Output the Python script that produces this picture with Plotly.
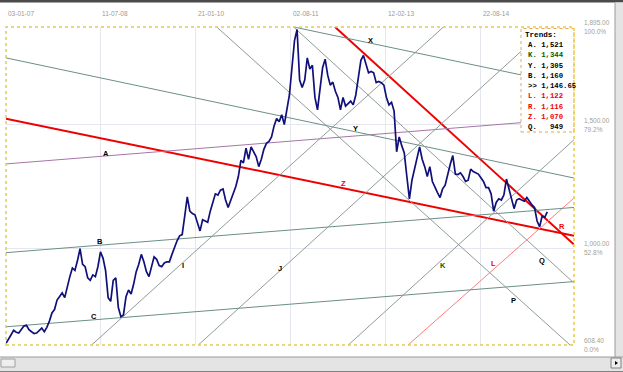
import pandas as pd
import plotly.graph_objects as go

# ---------------- data ----------------
start_date = "2007-01-03"
prices = [
    615, 635, 650, 668, 660, 657, 670, 685, 688, 670,
    662, 655, 657, 668, 677, 662, 680, 705, 738, 752,
    790, 805, 819, 800, 845, 885, 920, 910, 950, 998,
    935, 925, 880, 870, 892, 885, 925, 985, 960, 910,
    800, 785, 870, 880, 760, 723, 730, 804, 831, 815,
    855, 905, 935, 975, 945, 905, 885, 920, 965, 955,
    930, 925, 940, 945, 945, 975, 1005, 1030, 1050, 1055,
    1130, 1208, 1150, 1140, 1135, 1100, 1070, 1115, 1110, 1105,
    1150, 1185, 1220, 1215, 1235, 1240, 1195, 1165, 1195, 1225,
    1250, 1290, 1355, 1345, 1405, 1360, 1410, 1390, 1370, 1330,
    1360, 1400, 1424, 1432, 1450, 1495, 1525, 1512, 1540, 1500,
    1560, 1620, 1730, 1840, 1885, 1680, 1650, 1680, 1770, 1725,
    1740, 1610, 1560, 1650, 1730, 1765, 1700, 1660, 1672, 1635,
    1610, 1560, 1610, 1575, 1585, 1595, 1580, 1620, 1690, 1760,
    1780, 1745, 1710, 1715, 1710, 1670, 1675, 1670, 1660, 1610,
    1580, 1590, 1555, 1390, 1450, 1415, 1385, 1290, 1200, 1275,
    1320, 1355, 1410, 1360, 1330, 1290, 1330, 1270, 1245, 1225,
    1205, 1240, 1255, 1300, 1340, 1375, 1300, 1298, 1305, 1290,
    1270, 1275, 1320, 1310, 1305, 1300, 1285, 1270, 1245, 1245,
    1220, 1150, 1185, 1200, 1195, 1215, 1280, 1240, 1208, 1160,
    1195, 1200, 1195, 1190, 1205, 1188, 1175, 1165, 1110, 1087,
    1130, 1125, 1147,
]

x_range = ["2007-01-03", "2016-02-22"]
y_range = [608.4, 1895]

tick_dates = ["2007-01-03", "2008-07-11", "2010-01-21", "2011-08-02", "2013-02-12", "2014-08-22"]
tick_text = ["03-01-07", "11-07-08", "21-01-10", "02-08-11", "12-02-13", "22-08-14"]

y_label_values = [1895, 1500, 1000, 608.4]
y_label_text = ["1,895.00", "1,500.00", "1,000.00", "608.40"]
y_label_pct = ["100.0%", "79.2%", "52.8%", "0.0%"]

# trend lines: name, start (date, price), end (date, price)
trend_names = ["Z", "R", "L", "A", "Y", "X", "B", "C", "I", "J", "K", "P", "Q"]
trend_x0 = ["2007-01-03", "2012-04-19", "2013-06-22", "2007-01-03", "2007-01-03", "2011-08-20",
            "2007-01-03", "2007-01-03", "2008-05-20", "2010-02-06", "2012-07-06", "2010-05-25", "2011-08-20"]
trend_y0 = [1524, 1895, 608.4, 1341, 1770, 1895, 982, 682, 608.4, 608.4, 608.4, 1895, 1895]
trend_x1 = ["2016-02-22", "2016-02-22", "2016-02-22", "2016-02-22", "2016-02-22", "2016-02-22",
            "2016-02-22", "2016-02-22", "2014-01-16", "2015-09-21", "2016-02-22", "2016-01-30", "2016-02-22"]
trend_y1 = [1050, 1015, 1203, 1525, 1284, 1656, 1165, 865, 1895, 1895, 1439, 608.4, 859]

# point labels on the chart
label_text = ["A", "B", "C", "I", "J", "X", "Y", "Z", "K", "L", "P", "Q", "R"]
label_x = ["2008-08-12", "2008-07-08", "2008-06-05", "2009-11-06", "2011-06-01", "2012-11-15",
           "2012-08-15", "2012-06-07", "2014-01-12", "2014-11-05", "2015-03-03", "2015-08-17", "2015-12-16"]
label_y = [1384, 1026, 723, 932, 919, 1840, 1485, 1260, 932, 939, 790, 952, 1087]

# legend box rows
legend_rows = ["A. 1,521", "K. 1,344", "Y. 1,305", "B. 1,160", ">> 1,146.65",
               "L. 1,122", "R. 1,116", "Z. 1,070", "Q.\u00a0\u00a0\u00a0949"]

# ---------------- styles ----------------
RED = "#ee0000"
TEAL = "#6a8f86"
GRAY = "#8e9c98"
trend_style = {
    "Z": (RED, 2), "R": (RED, 2), "L": ("#ff7b7b", 1), "A": ("#a676a6", 1),
    "Y": (TEAL, 1), "X": (TEAL, 1), "B": (TEAL, 1), "C": (TEAL, 1),
    "I": (GRAY, 1), "J": (GRAY, 1), "K": (GRAY, 1), "P": (GRAY, 1), "Q": (GRAY, 1),
}
label_color = {"Z": RED, "L": RED, "R": RED, "K": "#006000"}
legend_color = ["#000000", "#006000", "#000000", "#000000", "#000000", RED, RED, RED, "#000000"]

# plot area in pixels (for paper-coordinate decorations)
W, H = 623, 372
PL, PR, PT, PB = 6, 574, 27, 345


def px(xp):
    return (xp - PL) / (PR - PL)


def py(yp):
    return (PB - yp) / (PB - PT)


fig = go.Figure()

for n, a, b, c, d in zip(trend_names, trend_x0, trend_y0, trend_x1, trend_y1):
    col, w = trend_style[n]
    fig.add_trace(go.Scatter(x=[a, c], y=[b, d], mode="lines",
                             line=dict(color=col, width=w), hoverinfo="skip", showlegend=False))

dates = pd.date_range(start_date, periods=len(prices), freq="15D")
fig.add_trace(go.Scatter(x=dates, y=prices, mode="lines",
                         line=dict(color="#10107a", width=1.7), showlegend=False))

annotations = []
for d, t in zip(tick_dates, tick_text):
    annotations.append(dict(x=d, xref="x", y=py(13.5), yref="paper", text=t, showarrow=False,
                            xanchor="left", yanchor="middle", xshift=0,
                            font=dict(family="Liberation Sans", size=6.5, color="#9a9a9a")))
for v, t, p in zip(y_label_values, y_label_text, y_label_pct):
    annotations.append(dict(x=px(582), xref="paper", y=v, yref="y", text=t, showarrow=False,
                            xanchor="left", yanchor="middle", yshift=4.5,
                            font=dict(family="Liberation Sans", size=6.5, color="#a4a294")))
    annotations.append(dict(x=px(582), xref="paper", y=v, yref="y", text=p, showarrow=False,
                            xanchor="left", yanchor="middle", yshift=-4.5,
                            font=dict(family="Liberation Sans", size=6.5, color="#a4a294")))
for t, x, y in zip(label_text, label_x, label_y):
    annotations.append(dict(x=x, y=y, xref="x", yref="y", text="<b>" + t + "</b>", showarrow=False,
                            xanchor="center", yanchor="middle",
                            font=dict(family="Liberation Sans", size=7.5,
                                      color=label_color.get(t, "#000000"))))
annotations.append(dict(x=px(522.5), xref="paper", y=py(35), yref="paper", text="<b>Trends:</b>",
                        showarrow=False, xanchor="left", yanchor="middle",
                        font=dict(family="Liberation Mono", size=7.6, color="#000000")))
for i, (t, c) in enumerate(zip(legend_rows, legend_color)):
    annotations.append(dict(x=px(525.5), xref="paper", y=py(45.2 + 10.25 * i), yref="paper",
                            text="<b>" + t.replace(" ", "\u00a0") + "</b>",
                            showarrow=False, xanchor="left", yanchor="middle",
                            font=dict(family="Liberation Mono", size=7.3, color=c)))

shapes = [
    # legend box
    dict(type="rect", xref="paper", yref="paper", x0=px(521), x1=px(574), y0=py(132), y1=py(28.5),
         fillcolor="white", line=dict(color="#e8a848", width=1, dash="dot"), layer="above"),
    # plot border
    dict(type="rect", xref="paper", yref="paper", x0=0, x1=1, y0=0, y1=1,
         line=dict(color="#e4cc50", width=1.5, dash="dot"), layer="above"),
    # window chrome: top bar
    dict(type="rect", xref="paper", yref="paper", x0=px(0), x1=px(W), y0=py(2.5), y1=py(0),
         fillcolor="#4a4a4a", line=dict(width=0), layer="above"),
    # right scroll bar
    dict(type="rect", xref="paper", yref="paper", x0=px(615), x1=px(W), y0=py(357), y1=py(2.5),
         fillcolor="#e4e4e4", line=dict(width=0), layer="above"),
    dict(type="line", xref="paper", yref="paper", x0=px(615), x1=px(615), y0=py(357), y1=py(2.5),
         line=dict(color="#9a9a9a", width=1), layer="above"),
    # bottom scroll bar
    dict(type="rect", xref="paper", yref="paper", x0=px(0), x1=px(W), y0=py(H), y1=py(357),
         fillcolor="#e4e4e4", line=dict(width=0), layer="above"),
    dict(type="line", xref="paper", yref="paper", x0=px(0), x1=px(W), y0=py(357), y1=py(357),
         line=dict(color="#9a9a9a", width=1), layer="above"),
    dict(type="line", xref="paper", yref="paper", x0=px(0), x1=px(W), y0=py(371.5), y1=py(371.5),
         line=dict(color="#808080", width=1), layer="above"),
    dict(type="rect", xref="paper", yref="paper", x0=px(1), x1=px(15), y0=py(367), y1=py(359),
         fillcolor="#eeeeee", line=dict(color="#a0a0a0", width=1), layer="above"),
    dict(type="rect", xref="paper", yref="paper", x0=px(611), x1=px(621), y0=py(368), y1=py(358),
         fillcolor="#eeeeee", line=dict(color="#808080", width=1), layer="above"),
    dict(type="path", xref="paper", yref="paper",
         path=f"M {px(615)},{py(361)} L {px(618)},{py(363)} L {px(615)},{py(365)} Z",
         fillcolor="#000000", line=dict(width=0), layer="above"),
]

fig.update_layout(
    width=W, height=H,
    margin=dict(l=PL, r=W - PR, t=PT, b=H - PB, pad=0),
    paper_bgcolor="white", plot_bgcolor="white",
    showlegend=False,
    xaxis=dict(type="date", range=x_range, tickvals=tick_dates, showticklabels=False,
               showgrid=True, gridcolor="#e6e6ee", gridwidth=1, zeroline=False,
               showline=False, ticks=""),
    yaxis=dict(range=y_range, tickvals=[1000, 1500], showticklabels=False, side="right",
               showgrid=True, gridcolor="#e6e6ee", gridwidth=1, zeroline=False,
               showline=False, ticks=""),
    annotations=annotations,
    shapes=shapes,
)

fig.write_html("out.html", config={"displayModeBar": False},
               post_script="document.body.style.margin='0px';document.body.style.overflow='hidden';")
